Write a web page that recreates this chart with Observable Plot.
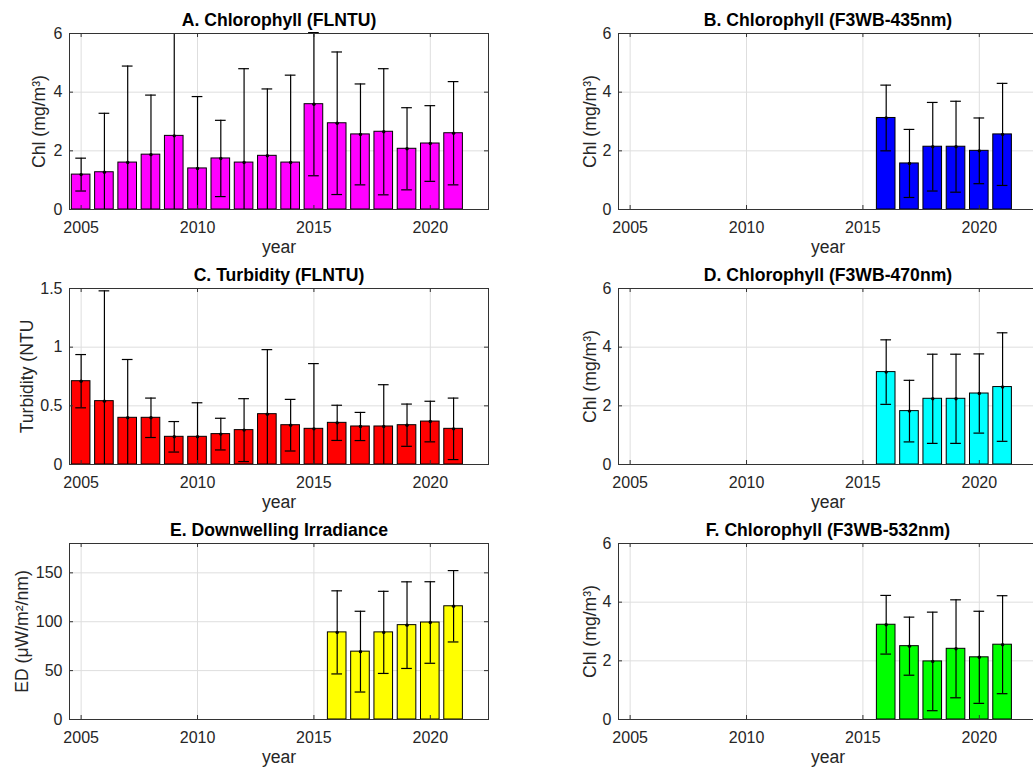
<!DOCTYPE html>
<html>
<head>
<meta charset="utf-8">
<script src="https://cdn.jsdelivr.net/npm/d3@7"></script>
<script src="https://cdn.jsdelivr.net/npm/@observablehq/plot@0.6"></script>
<style>
  html, body { margin: 0; padding: 0; background: #fff; }
  body { width: 1033px; height: 771px; overflow: hidden; position: relative; font-family: "Liberation Sans", Arial, sans-serif; }
  .panel { position: absolute; width: 516px; }
</style>
</head>
<body>
<script>
// ---- data ----
const yearsAll = [2005, 2006, 2007, 2008, 2009, 2010, 2011, 2012, 2013, 2014, 2015, 2016, 2017, 2018, 2019, 2020, 2021];
const yearsF3 = [2016, 2017, 2018, 2019, 2020, 2021];
const xTicks = [2005, 2010, 2015, 2020];
const xDomain = [2004.5, 2022.5];

// A. Chlorophyll (FLNTU): mean and error half-width
const chlFlntuMean = [1.19, 1.27, 1.60, 1.87, 2.51, 1.40, 1.74, 1.60, 1.83, 1.60, 3.59, 2.94, 2.56, 2.65, 2.07, 2.25, 2.60];
const chlFlntuErr  = [0.56, 2.01, 3.29, 2.03, 3.70, 2.45, 1.30, 3.20, 2.28, 2.98, 2.44, 2.43, 1.72, 2.15, 1.40, 1.29, 1.76];

// C. Turbidity (FLNTU)
const turbMean = [0.71, 0.54, 0.398, 0.398, 0.236, 0.236, 0.259, 0.293, 0.429, 0.335, 0.304, 0.355, 0.324, 0.324, 0.335, 0.366, 0.304];
const turbErr  = [0.227, 0.94, 0.497, 0.168, 0.13, 0.29, 0.135, 0.268, 0.55, 0.22, 0.556, 0.15, 0.12, 0.356, 0.18, 0.173, 0.262];

// B. Chlorophyll (F3WB-435nm)
const chl435Mean = [3.12, 1.57, 2.14, 2.14, 2.00, 2.56];
const chl435Err  = [1.12, 1.16, 1.51, 1.55, 1.12, 1.74];

// D. Chlorophyll (F3WB-470nm)
const chl470Mean = [3.15, 1.82, 2.24, 2.24, 2.42, 2.64];
const chl470Err  = [1.10, 1.05, 1.52, 1.52, 1.35, 1.85];

// E. Downwelling Irradiance
const edMean = [89.1, 69.4, 89.1, 96.5, 99.2, 115.8];
const edErr  = [42.5, 41.3, 42.0, 44.3, 41.7, 36.5];

// F. Chlorophyll (F3WB-532nm)
const chl532Mean = [3.23, 2.50, 1.98, 2.41, 2.12, 2.55];
const chl532Err  = [1.00, 0.99, 1.68, 1.67, 1.57, 1.67];

const chlTicks = [0, 2, 4, 6];
const turbTicks = [0, 0.5, 1, 1.5];
const edTicks = [0, 50, 100, 150];

// ---- layout ----
const W = 516, H = 255;
const mL = 69, mR = 28, mT = 33, mB = 46;
const PW = W - mL - mR, PH = H - mT - mB;
const TICK = 4;

function panel(cfg) {
  const rows = cfg.years.map((year, i) => ({year, mean: cfg.mean[i], err: cfg.err[i]}));
  const ymax = cfg.yDomain[1];
  const fmt = d => String(d);
  const chart = Plot.plot({
    width: W, height: H,
    marginLeft: mL, marginRight: mR, marginTop: mT, marginBottom: mB,
    style: {background: "transparent", overflow: "visible", maxWidth: "none",
            fontFamily: "'Liberation Sans', Arial, sans-serif", fontSize: "16px", color: "#262626"},
    x: {domain: xDomain},
    y: {domain: cfg.yDomain},
    marks: [
      // grid
      Plot.ruleX(xTicks, {x: d => d, stroke: "#dedede"}),
      Plot.ruleY(cfg.yTicks, {y: d => d, stroke: "#dedede"}),
      // bars
      Plot.rect(rows, {x1: d => d.year - 0.4, x2: d => d.year + 0.4, y1: d => 0, y2: "mean",
                       fill: cfg.color, stroke: "#000", strokeWidth: 1}),
      // error bars
      Plot.ruleX(rows, {x: "year", y1: d => d.mean - d.err, y2: d => d.mean + d.err,
                        stroke: "#000", strokeWidth: 1.2, clip: true}),
      Plot.ruleY(rows.filter(d => d.mean + d.err <= ymax * 1.01),
                 {y: d => d.mean + d.err, x1: d => d.year - 0.23, x2: d => d.year + 0.23, stroke: "#000", strokeWidth: 1.2}),
      Plot.ruleY(rows.filter(d => d.mean - d.err >= 0),
                 {y: d => d.mean - d.err, x1: d => d.year - 0.23, x2: d => d.year + 0.23, stroke: "#000", strokeWidth: 1.2}),
      Plot.dot(rows, {x: "year", y: "mean", r: 1.7, fill: "#000", stroke: null}),
      // frame and inward ticks
      Plot.frame({stroke: "#333", strokeWidth: 1}),
      Plot.ruleY(cfg.yTicks, {y: d => d, insetRight: PW - TICK, stroke: "#333"}),
      Plot.ruleY(cfg.yTicks, {y: d => d, insetLeft: PW - TICK, stroke: "#333"}),
      Plot.ruleX(xTicks, {x: d => d, insetTop: PH - TICK, stroke: "#333"}),
      Plot.ruleX(xTicks, {x: d => d, insetBottom: PH - TICK, stroke: "#333"}),
      // axes
      Plot.axisX({ticks: xTicks, tickSize: 0, tickPadding: 12, tickFormat: fmt, label: null, fill: "#262626"}),
      Plot.axisY({ticks: cfg.yTicks, tickSize: 0, tickPadding: 7, tickFormat: fmt, label: null, fill: "#262626"}),
      // title and axis labels
      Plot.text([cfg.title], {text: d => d, frameAnchor: "top", lineAnchor: "middle", textAnchor: "middle",
                              dy: -13, fontWeight: "bold", fontSize: 17.6, fill: "#000"}),
      Plot.text(["year"], {text: d => d, frameAnchor: "bottom", lineAnchor: "middle", textAnchor: "middle",
                           dy: 38, fontSize: 17.6, fill: "#262626"}),
      Plot.text([cfg.ylabel], {text: d => d, frameAnchor: "left", lineAnchor: "middle", textAnchor: "middle",
                               dx: cfg.labelDx, rotate: -90, fontSize: 17.6, fill: "#262626"})
    ]
  });
  const div = document.createElement("div");
  div.className = "panel";
  div.style.left = cfg.left + "px";
  div.style.top = cfg.top + "px";
  div.appendChild(chart);
  document.body.appendChild(div);
}

const leftCol = 0, rightCol = 549;
panel({title: "A. Chlorophyll (FLNTU)", ylabel: "Chl (mg/m³)", yDomain: [0, 6], yTicks: chlTicks,
       years: yearsAll, mean: chlFlntuMean, err: chlFlntuErr, color: "#ff00ff", left: leftCol, top: 0, labelDx: -30});
panel({title: "B. Chlorophyll (F3WB-435nm)", ylabel: "Chl (mg/m³)", yDomain: [0, 6], yTicks: chlTicks,
       years: yearsF3, mean: chl435Mean, err: chl435Err, color: "#0000ff", left: rightCol, top: 0, labelDx: -28});
panel({title: "C. Turbidity (FLNTU)", ylabel: "Turbidity (NTU", yDomain: [0, 1.5], yTicks: turbTicks,
       years: yearsAll, mean: turbMean, err: turbErr, color: "#ff0000", left: leftCol, top: 255, labelDx: -42});
panel({title: "D. Chlorophyll (F3WB-470nm)", ylabel: "Chl (mg/m³)", yDomain: [0, 6], yTicks: chlTicks,
       years: yearsF3, mean: chl470Mean, err: chl470Err, color: "#00ffff", left: rightCol, top: 255, labelDx: -28});
panel({title: "E. Downwelling Irradiance", ylabel: "ED (μW/m²/nm)", yDomain: [0, 180], yTicks: edTicks,
       years: yearsF3, mean: edMean, err: edErr, color: "#ffff00", left: leftCol, top: 510, labelDx: -47});
panel({title: "F. Chlorophyll (F3WB-532nm)", ylabel: "Chl (mg/m³)", yDomain: [0, 6], yTicks: chlTicks,
       years: yearsF3, mean: chl532Mean, err: chl532Err, color: "#00ff00", left: rightCol, top: 510, labelDx: -28});
</script>
</body>
</html>
